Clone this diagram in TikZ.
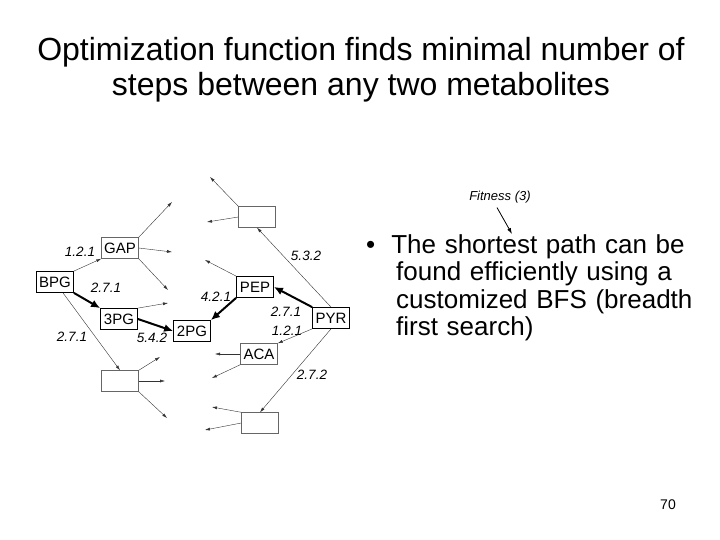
\documentclass[tikz,border=0pt]{standalone}
\usepackage{fontspec}
\setmainfont{Liberation Sans}
\usetikzlibrary{arrows.meta}
\begin{document}
\begin{tikzpicture}[x=1pt,y=-1pt,>=Latex]
        \tikzstyle{met}=[draw=black,thick,fill=white,minimum width=37pt,minimum height=21pt,inner sep=1pt,font=\fontsize{15}{15}\selectfont]
        \tikzstyle{weak}=[draw=black!60,thin,fill=white,minimum width=37pt,minimum height=21pt,inner sep=1pt,font=\fontsize{15}{15}\selectfont]
        \tikzstyle{lab}=[font=\fontsize{13.5}{13.5}\selectfont\itshape]
        \tikzstyle{edge}=[-{Latex[length=5pt,width=3pt]},black!80,thin]
        \tikzstyle{bold}=[-{Latex[length=9pt,width=8pt]},line width=2pt]
        \useasboundingbox (0,0) rectangle (720,540);
        % title
        \node[align=center,font=\fontsize{32}{35}\selectfont] (title) at (361,70) {Optimization function finds minimal number of\\steps between any two metabolites};
        % metabolites
        \node[weak] (gap) at (120,248) {GAP};
        \node[met] (bpg) at (55,282) {BPG};
        \node[met] (pg3) at (119,319) {3PG};
        \node[met] (pg2) at (192,331) {2PG};
        \node[met] (pep) at (255,287) {PEP};
        \node[met] (pyr) at (331,318) {PYR};
        \node[weak] (aca) at (259,354) {ACA};
        \node[weak] (top) at (257,217) {};
        \node[weak] (bl) at (120,381) {};
        \node[weak] (br) at (260,423) {};
        % free ends
        \coordinate (g1) at (172,202); \coordinate (g2) at (172,252); \coordinate (g3) at (168,290);
        \coordinate (p1) at (168,303); \coordinate (e1) at (205,260);
        \coordinate (t1) at (210,177); \coordinate (t2) at (207,222);
        \coordinate (a1) at (215,354); \coordinate (a2) at (212,378);
        \coordinate (b1) at (160,357); \coordinate (b2) at (165,381); \coordinate (b3) at (167,418);
        \coordinate (r1) at (212,407); \coordinate (r2) at (205,430);
        % thin reactions
        \draw[edge] (gap.north east) -- (g1);
        \draw[edge] (gap.east) -- (g2);
        \draw[edge] (gap.south east) -- (g3);
        \draw[edge] (bpg.north east) -- (gap.south west);
        \draw[edge] ([xshift=8pt]bpg.south) -- (bl.north);
        \draw[edge] (pg3.north east) -- (p1);
        \draw[edge] (pep.north west) -- (e1);
        \draw[edge] (top.north west) -- (t1);
        \draw[edge] (top.west) -- (t2);
        \draw[edge] (pyr.north) -- (top.south);
        \draw[edge] (pyr.south west) -- (aca.north east);
        \draw[edge] (pyr.south) -- (br.north);
        \draw[edge] (aca.west) -- (a1);
        \draw[edge] (aca.south west) -- (a2);
        \draw[edge] (bl.north east) -- (b1);
        \draw[edge] (bl.east) -- (b2);
        \draw[edge] (bl.south east) -- (b3);
        \draw[edge] (br.north west) -- (r1);
        \draw[edge] (br.west) -- (r2);
        % shortest path
        \draw[bold] (bpg.south east) -- (pg3.north west);
        \draw[bold] (pg3.east) -- (pg2.west);
        \draw[bold] (pep.south west) -- (pg2.north east);
        \draw[bold] (pyr.north west) -- (pep.east);
        % enzyme labels
        \node[lab] (l1) at (80,252) {1.2.1};
        \node[lab] (l2) at (106,288) {2.7.1};
        \node[lab] (l3) at (72,337) {2.7.1};
        \node[lab] (l4) at (152,338) {5.4.2};
        \node[lab] (l5) at (216,297) {4.2.1};
        \node[lab] (l6) at (286,312) {2.7.1};
        \node[lab] (l7) at (287,331) {1.2.1};
        \node[lab] (l8) at (306,256) {5.3.2};
        \node[lab] (l9) at (312,375) {2.7.2};
        % right column
        \node[font=\fontsize{13}{13}\selectfont\itshape] (fit) at (500,197) {Fitness (3)};
        \coordinate (fa) at (512,234);
        \draw[-{Latex[length=6pt,width=4pt]},thick] ([xshift=-3pt,yshift=-1pt]fit.south) -- (fa);
        \node[anchor=north west,align=left,text width=340pt,font=\fontsize{26}{27.5}\selectfont,inner sep=0pt] (bul) at (366,234)
          {\textbullet\hspace{16pt}The shortest path can be\\\hspace*{30pt}found efficiently using a\\\hspace*{30pt}customized BFS (breadth\\\hspace*{30pt}first search)};
        \node[font=\fontsize{14}{14}\selectfont] (num) at (668,505) {70};
\end{tikzpicture}
\end{document}
